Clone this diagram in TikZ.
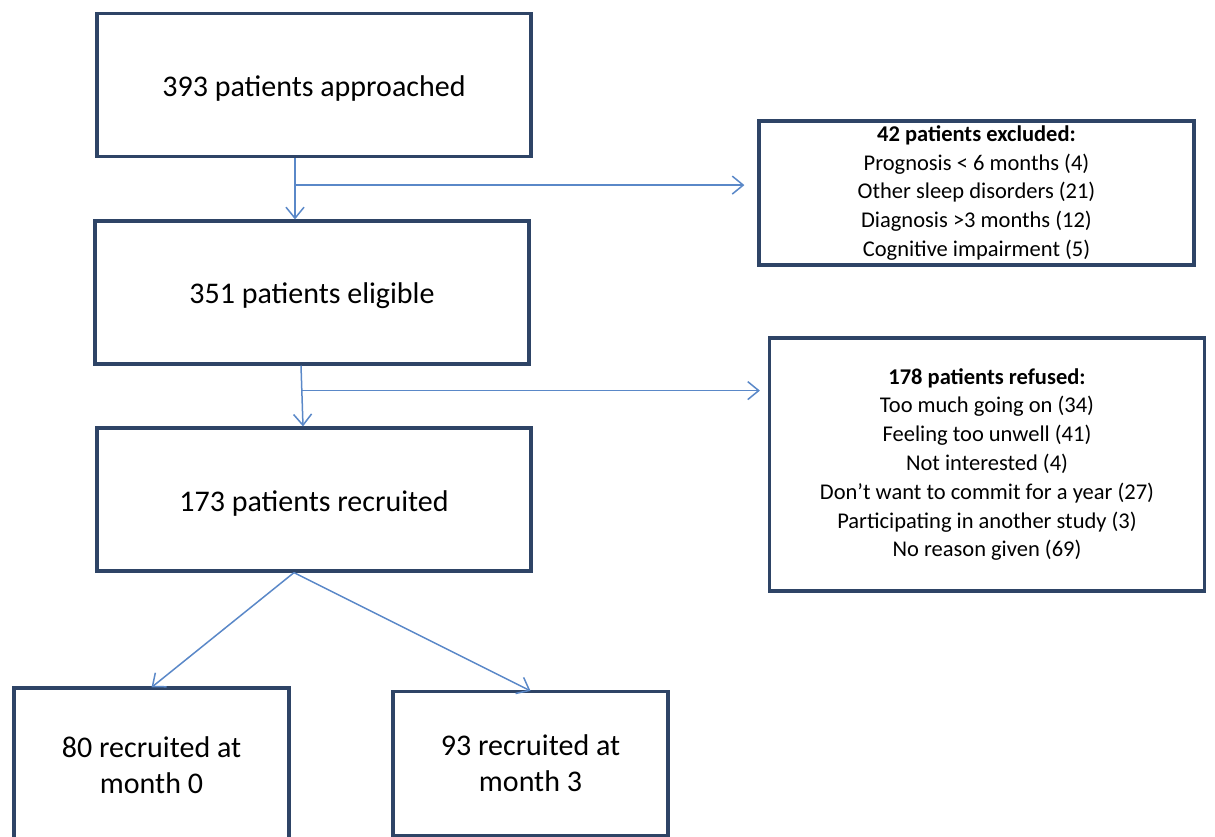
\documentclass[tikz,border=0pt]{standalone}
\usepackage{fontspec}
\setmainfont{Carlito}
\usetikzlibrary{arrows.meta,calc}
\definecolor{boxline}{HTML}{2E4466}
\definecolor{connline}{HTML}{5A88C8}
\tikzset{
  flowbox/.style={draw=boxline, line width=3.2pt, fill=white, rectangle, inner sep=0pt, align=center, text=black},
  mainbox/.style={flowbox, minimum width=434pt, minimum height=143pt, text height=28pt, font=\fontsize{30}{36}\selectfont},
  listbox/.style={flowbox, minimum width=435pt, font=\fontsize{22.5}{28.8}\selectfont},
  smallbox/.style={flowbox, minimum width=275pt, font=\fontsize{30}{36}\selectfont},
  conn/.style={draw=connline, line width=1.5pt, -{Straight Barb[length=11pt,width=18pt,line width=1.5pt]}}
}
\begin{document}
\begin{tikzpicture}[x=1pt,y=-1pt]
\useasboundingbox (0,0) rectangle (1215,837);
\node[mainbox] (b1) at (314,85) {393 patients approached};
\node[mainbox] (b2) at (312,292.5) {351 patients eligible};
\node[mainbox] (b3) at (314,499.5) {173 patients recruited};
\node[listbox, minimum height=144pt] (b4) at (976.5,193) {\textbf{42 patients excluded:}\\Prognosis < 6 months (4)\\Other sleep disorders (21)\\Diagnosis >3 months (12)\\Cognitive impairment (5)};
\node[listbox, minimum height=253pt] (b5) at (987,464.5) {\textbf{178 patients refused:}\\Too much going on (34)\\Feeling too unwell (41)\\Not interested (4)\\Don’t want to commit for a year (27)\\Participating in another study (3)\\No reason given (69)};
\node[smallbox, minimum height=154pt] (b6) at (151.5,765) {80 recruited at\\month 0};
\node[smallbox, minimum height=144pt] (b7) at (530.5,763.5) {93 recruited at\\month 3};
\coordinate (j1) at ($(b1.south)+(-19,27)$);
\coordinate (j2) at ($(b2.south)+(-11,25)$);
\draw[conn] ([xshift=-19pt]b1.south) -- ([xshift=-17pt]b2.north);
\draw[conn] (j1) -- ($(j1 -| b4.west)+(-13,0)$);
\draw[conn] ([xshift=-11pt]b2.south) -- ([xshift=-11pt]b3.north);
\draw[conn] (j2) -- ($(j2 -| b5.west)+(-8,0)$);
\draw[conn] ([xshift=-20pt]b3.south) -- ([yshift=-1pt]b6.north);
\draw[conn] ([xshift=-20pt]b3.south) -- ([yshift=-1pt]b7.north);
\end{tikzpicture}
\end{document}
